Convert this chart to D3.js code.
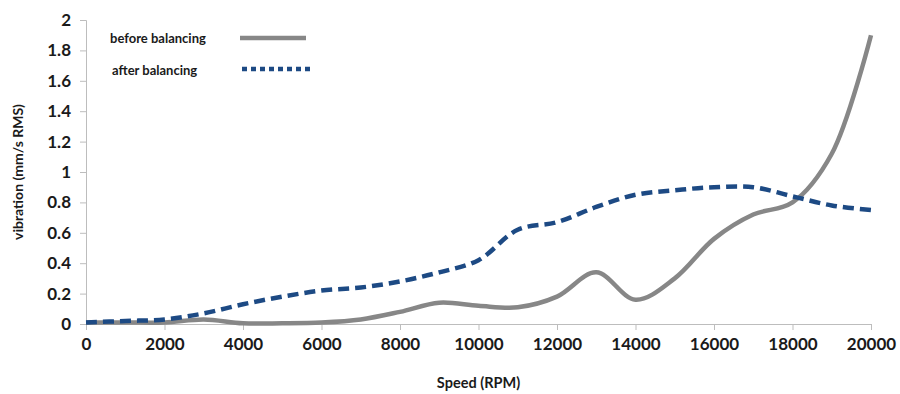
<!DOCTYPE html>
<html>
<head>
<meta charset="utf-8">
<script src="https://cdn.jsdelivr.net/npm/d3@7"></script>
<style>
  body { margin: 0; background: #fff; }
  text { font-family: Lato, "Open Sans", sans-serif; font-weight: bold; fill: #1a1a1a; }
</style>
</head>
<body>
<svg id="svg" width="900" height="394"></svg>
<script>
// speeds in RPM
const speeds = [0, 1000, 2000, 3000, 4000, 5000, 6000, 7000, 8000, 9000, 10000,
  11000, 12000, 13000, 14000, 15000, 16000, 17000, 18000, 19000, 20000];
const beforeBalancing = [0.01, 0.01, 0.01, 0.03, 0.005, 0.005, 0.01, 0.03, 0.08, 0.14, 0.12,
  0.11, 0.18, 0.34, 0.16, 0.3, 0.56, 0.72, 0.8, 1.12, 1.9];
const afterBalancing = [0.01, 0.02, 0.03, 0.07, 0.13, 0.18, 0.22, 0.24, 0.28, 0.34, 0.42,
  0.62, 0.67, 0.77, 0.85, 0.88, 0.9, 0.9, 0.84, 0.78, 0.75];
const xTicks = [0, 2000, 4000, 6000, 8000, 10000, 12000, 14000, 16000, 18000, 20000];
const yTicks = [0, 0.2, 0.4, 0.6, 0.8, 1, 1.2, 1.4, 1.6, 1.8, 2];
const seriesNames = ["before balancing", "after balancing"];

const svg = d3.select("#svg");
const padding = { left: 86, right: 29, top: 20, bottom: 70 };
const width = +svg.attr("width") - padding.left - padding.right;
const height = +svg.attr("height") - padding.top - padding.bottom;

const x = d3.scaleLinear().domain([0, 20000]).range([0, width]);
const y = d3.scaleLinear().domain([0, 2]).range([height, 0]);

const g = svg.append("g").attr("transform", "translate(" + padding.left + "," + padding.top + ")");

// x axis
const xAxis = g.append("g").attr("transform", "translate(0," + height + ")")
  .call(d3.axisBottom(x).tickValues(xTicks).tickSize(6).tickPadding(8).tickFormat(d3.format("d")));
xAxis.selectAll("line, path").attr("stroke", "#bdbdbd");
xAxis.selectAll("text").style("font-size", "17px");

// y axis
const yAxis = g.append("g")
  .call(d3.axisLeft(y).tickValues(yTicks).tickSize(6).tickPadding(9).tickFormat(d => d3.format("")(+d.toFixed(1))));
yAxis.selectAll("line, path").attr("stroke", "#bdbdbd");
yAxis.selectAll("text").style("font-size", "17px");

const line = d3.line().x(d => x(d[0])).y(d => y(d[1])).curve(d3.curveCatmullRom);

g.append("path")
  .datum(speeds.map((s, i) => [s, beforeBalancing[i]]))
  .attr("fill", "none").attr("stroke", "#878787").attr("stroke-width", 4.5)
  .attr("d", line);

g.append("path")
  .datum(speeds.map((s, i) => [s, afterBalancing[i]]))
  .attr("fill", "none").attr("stroke", "#1d4a84").attr("stroke-width", 4.5)
  .attr("stroke-dasharray", "11,6")
  .attr("d", line);

// axis titles
svg.append("text").attr("x", padding.left + width / 2).attr("y", 388)
  .attr("text-anchor", "middle").style("font-size", "14.5px").text("Speed (RPM)");
svg.append("text").attr("transform", "translate(23," + (padding.top + height / 2) + ") rotate(-90)")
  .attr("text-anchor", "middle").style("font-size", "14px").text("vibration (mm/s RMS)");

// legend
const legend = svg.append("g");
legend.append("text").attr("x", 110).attr("y", 43).style("font-size", "13px").text(seriesNames[0]);
legend.append("line").attr("x1", 240).attr("x2", 306).attr("y1", 38).attr("y2", 38)
  .attr("stroke", "#878787").attr("stroke-width", 4.5);
legend.append("text").attr("x", 112).attr("y", 75).style("font-size", "13px").text(seriesNames[1]);
legend.append("line").attr("x1", 242).attr("x2", 310).attr("y1", 69).attr("y2", 69)
  .attr("stroke", "#1d4a84").attr("stroke-width", 4.5).attr("stroke-dasharray", "5,4");
</script>
</body>
</html>
